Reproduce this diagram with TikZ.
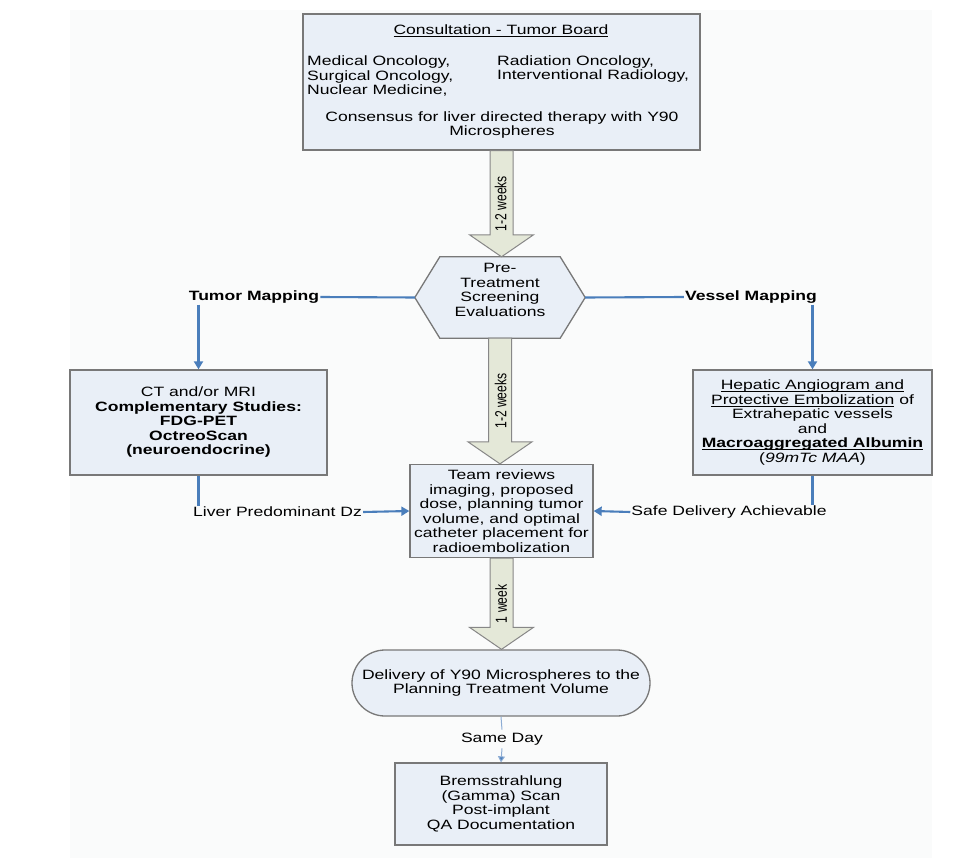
\documentclass[tikz,border=0pt]{standalone}
\usepackage{fontspec}
\setmainfont[FakeStretch=1.3]{Liberation Sans}
\newfontfamily\rotfont[FakeStretch=0.76]{Liberation Sans}
\usetikzlibrary{arrows.meta,calc,shapes.misc}
\definecolor{boxfill}{RGB}{233,239,247}
\definecolor{boxline}{RGB}{120,120,120}
\definecolor{arrfill}{RGB}{228,232,216}
\definecolor{arrline}{RGB}{135,135,135}
\definecolor{connblue}{RGB}{74,126,187}
\definecolor{lightconn}{RGB}{140,172,212}
\definecolor{bgfill}{RGB}{250,251,251}
\newcommand\ulx[1]{\leavevmode\setbox0=\hbox{#1}\rlap{\rule[-2.2pt]{\wd0}{0.9pt}}\box0\relax}
\tikzset{
  box/.style={draw=boxline, fill=boxfill, line width=1.3pt, inner sep=2pt, align=center},
  txt/.style={inner sep=1pt, align=center},
  conn/.style={draw=connblue, line width=2.1pt},
  tip/.style={-{Triangle[width=9pt,length=8pt]}},
  thinconn/.style={draw=lightconn, line width=1pt, -{Triangle[width=7pt,length=6pt,fill=connblue]}},
  bigarrow/.style={draw=arrline, fill=arrfill, line width=1pt},
  rotlabel/.style={rotate=90, inner sep=0pt, font=\rotfont\fontsize{16}{16}\selectfont}
}
\newcommand\myBigArrow[2]{%
  \filldraw[bigarrow] let \p1=(#1), \p2=(#2) in
    (\x1-11.5pt,\y1) -- (\x1-11.5pt,\y2+22pt) -- (\x1-32pt,\y2+22pt) -- (\x1,\y2)
    -- (\x1+32pt,\y2+22pt) -- (\x1+11.5pt,\y2+22pt) -- (\x1+11.5pt,\y1) -- cycle;}
\begin{document}
\begin{tikzpicture}[x=1pt,y=-1pt,font=\fontsize{13.5}{14.5}\selectfont]
\useasboundingbox (0,0) rectangle (976,858);
\fill[bgfill] (70,10) rectangle (932,858);

% top box
\node[box, minimum width=397pt, minimum height=136pt] (top) at (501.5,82) {};
\node[txt] (title) at (501,31) {\ulx{Consultation - Tumor Board}};
\node[txt, align=left, anchor=west] (colA) at (306,76) {Medical Oncology,\\Surgical Oncology,\\Nuclear Medicine,};
\node[txt, align=left, anchor=west] (colB) at (496,69) {Radiation Oncology,\\Interventional Radiology,};
\node[txt] (cons) at (502,125) {Consensus for liver directed therapy with Y90\\Microspheres};

% hexagon
\node[minimum width=170pt, minimum height=81pt, inner sep=0pt] (hex) at (500,297.5) {};
\filldraw[draw=boxline, fill=boxfill, line width=1.3pt]
  (hex.west) -- ($(hex.north west)+(25,0)$) -- ($(hex.north east)+(-25,0)$) -- (hex.east)
  -- ($(hex.south east)+(-25,0)$) -- ($(hex.south west)+(25,0)$) -- cycle;
\node[txt] (hext) at (500,290) {Pre-\\Treatment\\Screening\\Evaluations};

% side boxes
\node[box, minimum width=257pt, minimum height=105pt] (lbox) at (198.5,422.5)
  {CT and/or MRI\\\textbf{Complementary Studies:}\\\textbf{FDG-PET}\\\textbf{OctreoScan}\\\textbf{(neuroendocrine)}};
\node[box, minimum width=239pt, minimum height=105pt] (rbox) at (812.5,422.5)
  {\ulx{Hepatic Angiogram and}\\\ulx{Protective Embolization} of\\Extrahepatic vessels\\and\\\ulx{\textbf{Macroaggregated Albumin}}\\(\textit{99mTc MAA})};

% center box
\node[box, minimum width=183pt, minimum height=93pt] (cbox) at (501.5,511)
  {Team reviews\\imaging, proposed\\dose, planning tumor\\volume, and optimal\\catheter placement for\\radioembolization};

% delivery
\node[box, rounded rectangle, minimum width=302pt, minimum height=66pt] (deliv) at (501,683)
  {Delivery of Y90 Microspheres to the\\Planning Treatment Volume};

% bottom box
\node[box, minimum width=212pt, minimum height=82pt] (bot) at (501,804)
  {Bremsstrahlung\\(Gamma) Scan\\Post-implant\\QA Documentation};

% labels
\node[txt] (tm) at (254,297) {\textbf{Tumor Mapping}};
\node[txt] (vm) at (751,297) {\textbf{Vessel Mapping}};
\node[txt] (lpd) at (277.5,512) {Liver Predominant Dz};
\node[txt] (sda) at (729,512) {Safe Delivery Achievable};
\node[txt, inner sep=3pt] (sd) at (502,739) {Same Day};

% big arrows
\myBigArrow{top.south}{hex.north}
\myBigArrow{hex.south}{cbox.north}
\myBigArrow{cbox.south}{deliv.north}
\node[rotlabel] (w1) at ($(top.south)!0.5!(hex.north)$) {1-2 weeks};
\node[rotlabel] (w2) at ($(hex.south)!0.5!(cbox.north)$) {1-2 weeks};
\node[rotlabel] (w3) at ($(cbox.south)!0.5!(deliv.north)$) {1 week};

% connectors
\draw[conn] (hex.west) -- (tm.east);
\draw[conn] (hex.east) -- (vm.west);
\draw[conn, tip] (tm.south -| lbox.north) -- (lbox.north);
\draw[conn, tip] (vm.south -| rbox.north) -- (rbox.north);
\draw[conn] (lbox.south) -- (lbox.south |- lpd.north);
\draw[conn] (rbox.south) -- (rbox.south |- sda.north);
\draw[conn, tip] (lpd.east) -- (cbox.west);
\draw[conn, tip] (sda.west) -- (cbox.east);
\draw[thinconn, -] (deliv.south) -- (sd.north);
\draw[thinconn] (sd.south) -- (bot.north);
\end{tikzpicture}
\end{document}
